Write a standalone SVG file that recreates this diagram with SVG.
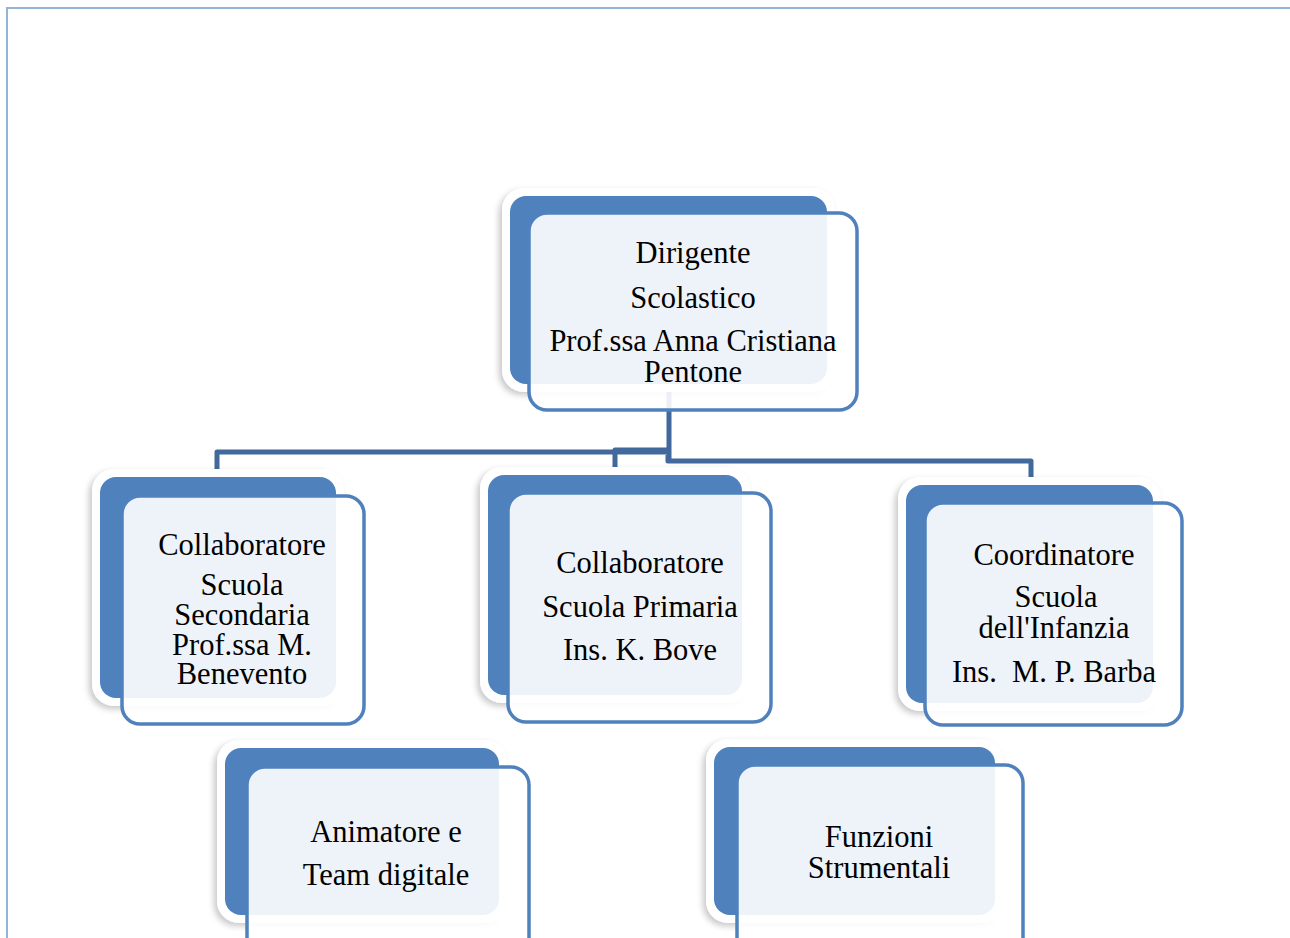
<svg xmlns="http://www.w3.org/2000/svg" width="1290" height="938" viewBox="0 0 1290 938">
  <defs>
    <filter id="sh" x="-10%" y="-10%" width="120%" height="125%">
      <feDropShadow dx="-3" dy="3" stdDeviation="3" flood-color="#000" flood-opacity="0.22"/>
    </filter>
    <style>
      .halo { fill: #ffffff; filter: url(#sh); }
      .back { fill: #4f81bd; }
      .front { fill: #ffffff; fill-opacity: 0.9; stroke: #4f81bd; stroke-width: 3.5; }
      .lbl { font-family: "Liberation Serif", "Times New Roman", serif; font-size: 30.5px; fill: #000; text-anchor: middle; }
      .conn { fill: none; stroke: #41699c; stroke-width: 5; stroke-linejoin: round; }
      .page { fill: none; stroke: #95b3d7; stroke-width: 2; }
    </style>
  </defs>
  <rect width="1290" height="938" fill="#ffffff"/>
  <path class="page" d="M7,938 V8 H1290"/>

  <g id="connectors">
    <path class="conn" d="M669,384 V462"/>
    <path class="conn" d="M217,472 V452 H668"/>
    <path class="conn" d="M615,470 V450 H668"/>
    <path class="conn" d="M668,455 V461 H1031 V478"/>
  </g>

  <g id="node-dirigente">
    <rect class="halo" x="502" y="188" width="333" height="204" rx="22"/>
    <rect class="back" x="510" y="196" width="317" height="188" rx="16"/>
    <rect class="front" x="529" y="213" width="328" height="197" rx="18"/>
    <text class="lbl" x="693" y="263">Dirigente</text>
    <text class="lbl" x="693" y="308">Scolastico</text>
    <text class="lbl" x="693" y="351">Prof.ssa Anna Cristiana</text>
    <text class="lbl" x="693" y="382">Pentone</text>
  </g>

  <g id="node-secondaria">
    <rect class="halo" x="92" y="469" width="252" height="237" rx="22"/>
    <rect class="back" x="100" y="477" width="236" height="221" rx="16"/>
    <rect class="front" x="122" y="496" width="242" height="228" rx="18"/>
    <text class="lbl" x="242" y="555">Collaboratore</text>
    <text class="lbl" x="242" y="595">Scuola</text>
    <text class="lbl" x="242" y="625">Secondaria</text>
    <text class="lbl" x="242" y="655">Prof.ssa M.</text>
    <text class="lbl" x="242" y="684">Benevento</text>
  </g>

  <g id="node-primaria">
    <rect class="halo" x="480" y="467" width="270" height="236" rx="22"/>
    <rect class="back" x="488" y="475" width="254" height="220" rx="16"/>
    <rect class="front" x="508" y="493" width="263" height="229" rx="18"/>
    <text class="lbl" x="640" y="573">Collaboratore</text>
    <text class="lbl" x="640" y="617">Scuola Primaria</text>
    <text class="lbl" x="640" y="660">Ins. K. Bove</text>
  </g>

  <g id="node-infanzia">
    <rect class="halo" x="898" y="477" width="263" height="234" rx="22"/>
    <rect class="back" x="906" y="485" width="247" height="218" rx="16"/>
    <rect class="front" x="925" y="503" width="257" height="222" rx="18"/>
    <text class="lbl" x="1054" y="565">Coordinatore</text>
    <text class="lbl" x="1056" y="607">Scuola</text>
    <text class="lbl" x="1054" y="638">dell'Infanzia</text>
    <text class="lbl" x="1054" y="682" xml:space="preserve">Ins.  M. P. Barba</text>
  </g>

  <g id="node-animatore">
    <rect class="halo" x="217" y="740" width="290" height="183" rx="22"/>
    <rect class="back" x="225" y="748" width="274" height="167" rx="16"/>
    <rect class="front" x="247" y="767" width="282" height="190" rx="18"/>
    <text class="lbl" x="386" y="842">Animatore e</text>
    <text class="lbl" x="386" y="885">Team digitale</text>
  </g>

  <g id="node-funzioni">
    <rect class="halo" x="706" y="739" width="297" height="184" rx="22"/>
    <rect class="back" x="714" y="747" width="281" height="168" rx="16"/>
    <rect class="front" x="737" y="765" width="286" height="192" rx="18"/>
    <text class="lbl" x="879" y="847">Funzioni</text>
    <text class="lbl" x="879" y="878">Strumentali</text>
  </g>
</svg>
